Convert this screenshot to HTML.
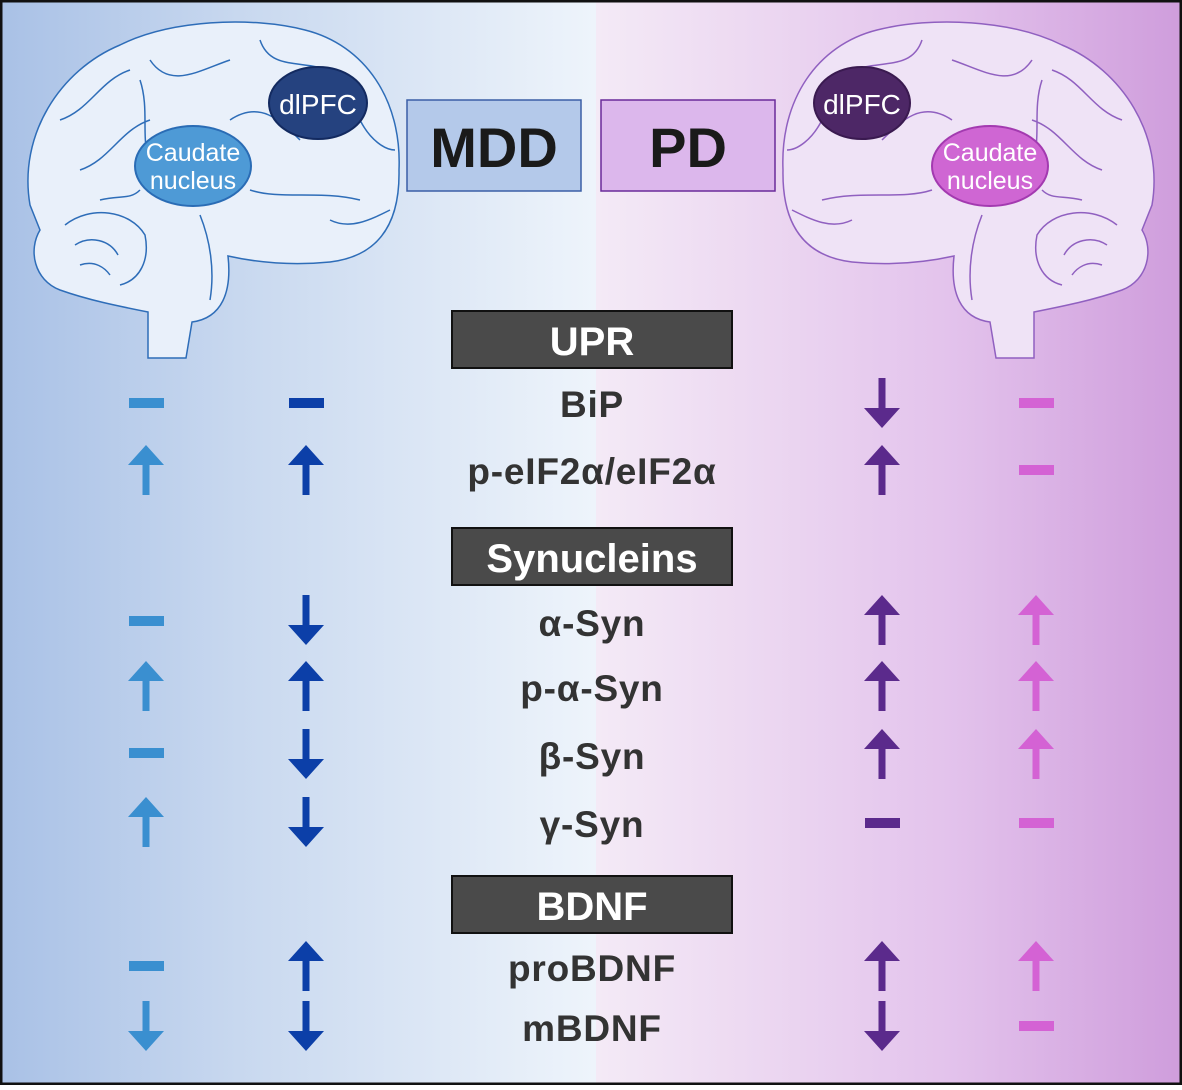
<!DOCTYPE html>
<html><head><meta charset="utf-8"><style>
html,body{margin:0;padding:0}
body{width:1182px;height:1085px;overflow:hidden;font-family:"Liberation Sans",sans-serif}
</style></head><body>
<svg width="1182" height="1085" viewBox="0 0 1182 1085" xmlns="http://www.w3.org/2000/svg">
<defs>
<linearGradient id="bl" x1="0" x2="1" y1="0" y2="0">
<stop offset="0" stop-color="#a9c1e6"/><stop offset="0.4" stop-color="#c8d8ef"/><stop offset="1" stop-color="#eef4fb"/>
</linearGradient>
<linearGradient id="pk" x1="0" x2="1" y1="0" y2="0">
<stop offset="0" stop-color="#f4eaf6"/><stop offset="0.6" stop-color="#e3c3ec"/><stop offset="1" stop-color="#cf9ddc"/>
</linearGradient>
<g id="up"><polygon points="-18,20 0,0 18,20 3.5,20 3.5,50 -3.5,50 -3.5,20"/></g>
<g id="dn"><polygon points="-18,30 0,50 18,30 3.5,30 3.5,0 -3.5,0 -3.5,30"/></g>
<g id="brain">
<path d="M30,205 C18,135 60,70 120,45 C170,20 250,16 305,30 C365,45 402,100 399,170 C400,222 380,256 330,262 C290,266 255,262 228,256 C232,292 222,318 192,322 L186,358 L148,358 L148,312 C118,306 88,300 60,290 C34,280 28,250 40,230 Z"/>
<path fill="none" d="M60,120 C90,110 100,80 130,70 M150,60 C170,90 200,70 230,60 M260,40 C270,70 300,60 330,70 M80,170 C110,160 120,130 150,120 M230,120 C260,100 280,120 300,140 M250,190 C280,200 320,190 360,200 M330,220 C350,230 370,220 390,210 M200,215 C210,240 215,270 210,300 M140,80 C150,110 140,140 150,160 M360,120 C370,140 385,150 395,150 M100,200 C120,195 130,200 140,190 M65,225 C90,205 130,210 145,235 C150,260 140,280 120,285 M75,245 C90,235 110,240 118,255 M80,265 C95,260 105,268 110,275"/>
</g>
</defs>
<rect x="0" y="0" width="596" height="1085" fill="url(#bl)"/>
<rect x="596" y="0" width="586" height="1085" fill="url(#pk)"/>
<rect x="1" y="1" width="1180" height="1083" fill="none" stroke="#111" stroke-width="3"/>

<g fill="#e9f0fa" stroke="#2e6db8" stroke-width="1.5"><use href="#brain"/></g>
<g fill="#efe3f6" stroke="#9060c0" stroke-width="1.5" transform="translate(1182,0) scale(-1,1)"><use href="#brain"/></g>

<ellipse cx="193" cy="166" rx="58" ry="40" fill="#4e9ad6" stroke="#2a6cb5" stroke-width="2"/>
<ellipse cx="318" cy="103" rx="49" ry="36" fill="#25427f" stroke="#132a60" stroke-width="2"/>
<ellipse cx="862" cy="103" rx="48" ry="36" fill="#4d2766" stroke="#3a1a50" stroke-width="2"/>
<ellipse cx="990" cy="166" rx="58" ry="40" fill="#cf66d3" stroke="#a33ab0" stroke-width="2"/>
<g fill="#fff" font-size="25" text-anchor="middle">
<text x="193" y="161">Caudate</text><text x="193" y="189">nucleus</text>
<text x="318" y="114" font-size="28">dlPFC</text><text x="862" y="114" font-size="28">dlPFC</text>
<text x="990" y="161">Caudate</text><text x="990" y="189">nucleus</text>
</g>

<rect x="407" y="100" width="174" height="91" fill="#b4c9ea" stroke="#3b5ea6" stroke-width="1.5"/>
<rect x="601" y="100" width="174" height="91" fill="#dcb7ec" stroke="#6a2a9a" stroke-width="1.5"/>
<g font-size="56" font-weight="bold" fill="#1a1a1a" text-anchor="middle">
<text x="494" y="167">MDD</text><text x="688" y="167">PD</text>
</g>

<g fill="#4a4a4a" stroke="#111" stroke-width="2">
<rect x="452" y="311" width="280" height="57"/>
<rect x="452" y="528" width="280" height="57"/>
<rect x="452" y="876" width="280" height="57"/>
</g>
<g fill="#fff" font-size="40" font-weight="bold" text-anchor="middle">
<text x="592" y="355">UPR</text><text x="592" y="572">Synucleins</text><text x="592" y="920">BDNF</text>
</g>
<g fill="#333" font-size="37" font-weight="bold" text-anchor="middle" letter-spacing="0.8">
<text x="592" y="417">BiP</text>
<text x="592" y="484">p-eIF2α/eIF2α</text>
<text x="592" y="636">α-Syn</text>
<text x="592" y="701">p-α-Syn</text>
<text x="592" y="769">β-Syn</text>
<text x="592" y="837">γ-Syn</text>
<text x="592" y="981">proBDNF</text>
<text x="592" y="1041">mBDNF</text>
</g>

<g fill="#3a8fd0">
<rect x="129" y="398" width="35" height="10"/>
<use href="#up" x="146" y="445"/>
<rect x="129" y="616" width="35" height="10"/>
<use href="#up" x="146" y="661"/>
<rect x="129" y="748" width="35" height="10"/>
<use href="#up" x="146" y="797"/>
<rect x="129" y="961" width="35" height="10"/>
<use href="#dn" x="146" y="1001"/>
</g>
<g fill="#0c3fa8">
<rect x="289" y="398" width="35" height="10"/>
<use href="#up" x="306" y="445"/>
<use href="#dn" x="306" y="595"/>
<use href="#up" x="306" y="661"/>
<use href="#dn" x="306" y="729"/>
<use href="#dn" x="306" y="797"/>
<use href="#up" x="306" y="941"/>
<use href="#dn" x="306" y="1001"/>
</g>
<g fill="#5b2a8c">
<use href="#dn" x="882" y="378"/>
<use href="#up" x="882" y="445"/>
<use href="#up" x="882" y="595"/>
<use href="#up" x="882" y="661"/>
<use href="#up" x="882" y="729"/>
<rect x="865" y="818" width="35" height="10"/>
<use href="#up" x="882" y="941"/>
<use href="#dn" x="882" y="1001"/>
</g>
<g fill="#d462d4">
<rect x="1019" y="398" width="35" height="10"/>
<rect x="1019" y="465" width="35" height="10"/>
<use href="#up" x="1036" y="595"/>
<use href="#up" x="1036" y="661"/>
<use href="#up" x="1036" y="729"/>
<rect x="1019" y="818" width="35" height="10"/>
<use href="#up" x="1036" y="941"/>
<rect x="1019" y="1021" width="35" height="10"/>
</g>
</svg>
</body></html>
